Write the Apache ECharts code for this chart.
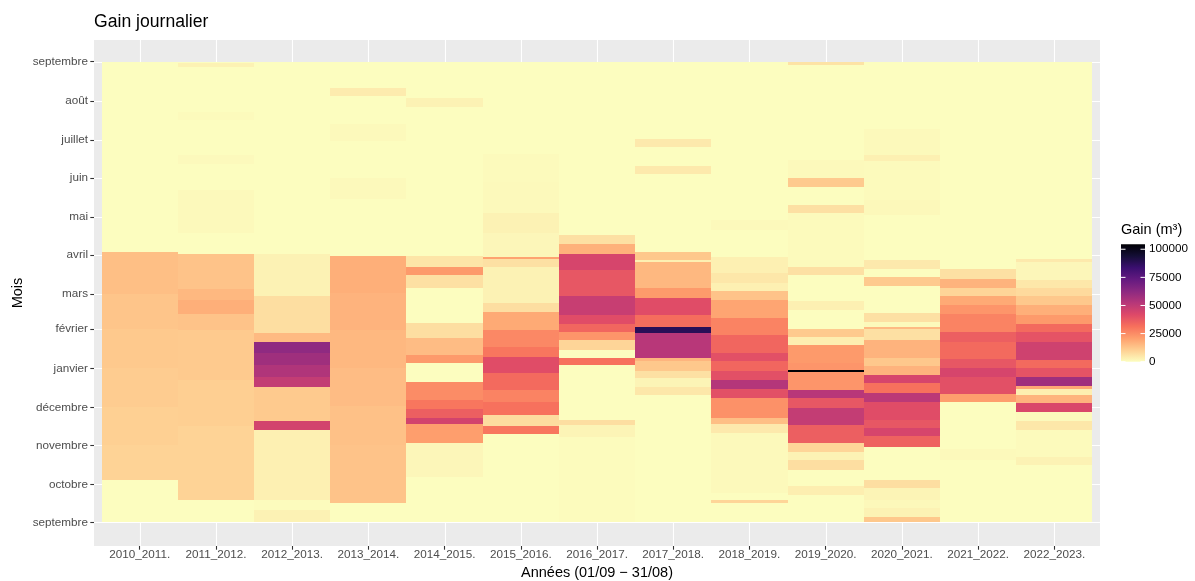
<!DOCTYPE html>
<html>
<head>
<meta charset="utf-8">
<script src="https://cdn.jsdelivr.net/npm/echarts@6/dist/echarts.min.js"></script>
<style>
  body { margin: 0; background: #fff; }
  #chart-container { width: 1195px; height: 581px; }
</style>
</head>
<body>
<div id="chart-container"></div>
<script>
// Années (colonnes)
const years = ['2010_2011.', '2011_2012.', '2012_2013.', '2013_2014.', '2014_2015.', '2015_2016.',
  '2016_2017.', '2017_2018.', '2018_2019.', '2019_2020.', '2020_2021.', '2021_2022.', '2022_2023.'];

// Jours depuis le 01/09 pour le début de chaque mois
const monthDays = [0, 30, 61, 91, 122, 153, 181, 212, 242, 273, 303, 334, 365];
const monthNames = ['septembre', 'octobre', 'novembre', 'décembre', 'janvier', 'février', 'mars',
  'avril', 'mai', 'juin', 'juillet', 'août', 'septembre'];

const legendTicks = [0, 25000, 50000, 75000, 100000];
const gainMax = 104400;

// Segments [jour début, jour fin, gain m3] par saison (le reste = 0)
const seg2010 = [[33.5,61,9500],[61,91,10200],[91,122,11000],[122,153,11800],[153,181,12600],[181,214,14000]];
const seg2011 = [[18,76,9500],[76,113,10500],[113,152,11500],[152,165,13000],[165,176,17500],[176,185,15500],
  [185,213,13000],[229,263,1000],[284,291,800],[319,325,700],[361,364,2500]];
const seg2012 = [[0,10,2500],[10,18,500],[18,73,3000],[73,80,45000],[80,107.5,11500],[107.5,115,49000],
  [115,125,54000],[125,134,58000],[134,143,62000],[143,150,15000],[150,179,7000],[179,213,2500]];
const seg2013 = [[15,61,13000],[61,92,13500],[92,122,14500],[122,152,15500],[152,181.5,16500],[181.5,211,17500],
  [256,273,1000],[302,316,1000],[338,344,4000]];
const seg2014 = [[36,63,1500],[63,78,21000],[78,82.5,45000],[82.5,90,36000],[90,97,30000],[97,111.5,25000],
  [126,132.5,22000],[132.5,146,14500],[146,158,7000],[185.5,196,6500],[196,202.5,22000],[202.5,211,5500],[329,336,2500]];
const seg2015 = [[70,76,30000],[76,85,7500],[85,95.5,31000],[95.5,105,27000],[105,118,33000],[118,131,41000],
  [131,139,30000],[139,152.5,26000],[152.5,167,18500],[167,173.5,7000],[173.5,202.5,2500],[202.5,208.5,6500],
  [208.5,210.5,20000],[210.5,229,1500],[229,245,2500],[245,270,1000],[270,292,600]];
const seg2016 = [[0,67.5,400],[67.5,77,2000],[77,81,7000],[124.5,130,31000],[136.5,144.5,9000],[144.5,151,23000],
  [151,157.5,34000],[157.5,164,41000],[164,179,48000],[179,200,38000],[200,213,44000],[213,220.5,17000],[220.5,227.5,6500]];
const seg2017 = [[101,107.5,5000],[107.5,114,2000],[114,119.5,6500],[119.5,128,12000],[128,130,16000],[130,150,52000],
  [150,154.5,88000],[154.5,164.5,32000],[164.5,177.5,41000],[177.5,185.5,22000],[185.5,206,15500],[206,208,3000],
  [208,214.5,12000],[276,282,4500],[297.5,303.5,4500]];
const seg2018 = [[15.5,17.5,9000],[23,70.5,1000],[70.5,78,4500],[78,82.5,14000],[82.5,98.5,24000],[98.5,106,40000],
  [106,113,53000],[113,119.5,40000],[119.5,127.5,34000],[127.5,134,40000],[134,148.5,34000],[148.5,161.5,27000],
  [161.5,176,19500],[176,183,13000],[183,189.5,3000],[189.5,197.5,5000],[197.5,210.5,3000],[231.5,239.5,1000]];
const seg2019 = [[21.5,28.5,3500],[41.5,49,7000],[49,56,2500],[56,62.5,9000],[62.5,77,36000],[77,90.5,49000],
  [90.5,98.5,38000],[98.5,105,52000],[105,119.4,23000],[119.4,120.8,104000],[120.8,126,23000],[126,140.5,22000],
  [140.5,147,3500],[147,153.5,11500],[168,175,3000],[196,202.5,6500],[202.5,245,700],[245,251.5,6500],
  [266,272.5,11500],[272.5,287,1000],[362,365,6000]];
const seg2020 = [[0,4.5,12000],[4.5,11,2500],[11,17.5,1200],[17.5,27,2000],[27,33.5,7000],[60,68,35000],[68,74.5,44000],
  [74.5,81,38000],[81,95.5,41000],[95.5,102.5,51000],[102.5,110,31000],[110,116.5,44000],[116.5,124,16500],
  [124,130,12000],[130,144.5,16500],[144.5,153,6500],[153,154.5,15000],[154.5,159,1000],[159,165.5,6500],
  [187.5,194,11500],[200.5,208,4500],[243.5,255.5,1200],[255.5,286,600],[286,291,3000],[291,312,900]];
const seg2021 = [[49,58,1000],[95,102,21000],[102,115.5,40000],[115.5,122,44000],[122,129,38000],[129,143,33000],
  [143,151,36000],[151,165,27000],[165,172,23000],[172,179,18500],[179,185.5,9000],[185.5,192.5,16500],[192.5,200.5,6500]];
const seg2022 = [[45.5,52,2500],[52,73,700],[73,80,5000],[80,87.5,800],[87.5,94.5,43000],[94.5,101,16500],
  [101,106,3500],[106,108,19000],[108,115.5,58000],[115.5,122,39000],[122,128.5,33000],[128.5,143,46000],
  [143,151,39000],[151,157.5,33000],[157.5,164.5,22000],[164.5,172,17500],[172,179,12000],[179,185.5,8000],
  [185.5,192,5000],[192,206,1500],[206,209,4500]];

const segments = [seg2010, seg2011, seg2012, seg2013, seg2014, seg2015, seg2016,
  seg2017, seg2018, seg2019, seg2020, seg2021, seg2022];

// palette magma inversée (0 -> jaune pâle, max -> noir)
const magmaRev = ['#FCFDBF', '#FECF92', '#FE9F6D', '#F7705C', '#DE4968', '#B73779',
  '#8C2981', '#641A80', '#3B0F70', '#140E36', '#000004'];

const FONT = '"Liberation Sans", Arial, sans-serif';

// une tuile de base à 0 par saison, puis les segments par-dessus
const tiles = [];
years.forEach((y, i) => tiles.push([i, 0, 365, 0]));
segments.forEach((segs, i) => segs.forEach(s => tiles.push([i, s[0], s[1], s[2]])));

function renderTile(params, api) {
  const p0 = api.coord([api.value(0) - 0.5, api.value(2)]);
  const p1 = api.coord([api.value(0) + 0.5, api.value(1)]);
  const x0 = Math.round(p0[0]), x1 = Math.round(p1[0]);
  const y0 = Math.round(p0[1]), y1 = Math.round(p1[1]);
  return {
    type: 'rect',
    shape: { x: x0, y: y0, width: x1 - x0, height: Math.max(y1 - y0, 1) },
    style: { fill: api.visual('color') }
  };
}

function renderVLine(params, api) {
  const cs = params.coordSys;
  const x = Math.round(api.coord([api.value(0), 0])[0]) + 0.5;
  return { type: 'line', shape: { x1: x, y1: cs.y, x2: x, y2: cs.y + cs.height },
    style: { stroke: '#fff', lineWidth: 1.1 } };
}

function renderHLine(params, api) {
  const cs = params.coordSys;
  const y = Math.round(api.coord([0, api.value(1)])[1]) + 0.5;
  return { type: 'line', shape: { x1: cs.x, y1: y, x2: cs.x + cs.width, y2: y },
    style: { stroke: '#fff', lineWidth: 1.1 } };
}

// légende (barre de couleur)
const barX = 1121, barTop = 244.3, barW = 24, barH = 117.4;
const gradStops = magmaRev.slice().reverse().map((c, k) => ({ offset: k / (magmaRev.length - 1), color: c }));
const legendGraphics = [
  { type: 'text', x: 1121, y: 230, style: { text: 'Gain (m³)', font: '14.5px ' + FONT, fill: '#000', verticalAlign: 'middle' } },
  { type: 'rect', shape: { x: barX, y: barTop, width: barW, height: barH },
    style: { fill: new echarts.graphic.LinearGradient(0, 0, 0, 1, gradStops) } }
];
legendTicks.forEach(v => {
  const ty = barTop + barH * (1 - v / gainMax);
  legendGraphics.push(
    { type: 'line', shape: { x1: barX, y1: ty, x2: barX + 4.5, y2: ty }, style: { stroke: '#fff', lineWidth: 1 } },
    { type: 'line', shape: { x1: barX + barW - 4.5, y1: ty, x2: barX + barW, y2: ty }, style: { stroke: '#fff', lineWidth: 1 } },
    { type: 'text', x: barX + barW + 4, y: ty, style: { text: String(v), font: '11.7px ' + FONT, fill: '#000', verticalAlign: 'middle' } }
  );
});

let myChart = echarts.init(document.getElementById('chart-container'), null, { renderer: 'canvas' });

const opciones = {
  backgroundColor: '#fff',
  animation: false,
  textStyle: { fontFamily: FONT },
  title: {
    text: 'Gain journalier', left: 94, top: 13, padding: 0,
    textStyle: { fontSize: 17.6, fontWeight: 'normal', color: '#000', fontFamily: FONT }
  },
  grid: { left: 94, right: 95, top: 40, bottom: 35, show: true, backgroundColor: '#EBEBEB', borderWidth: 0,
    outerBoundsMode: 'none', containLabel: false },
  xAxis: {
    type: 'value', min: -0.6, max: 12.6,
    axisLine: { show: false, onZero: false },
    splitLine: { show: false },
    axisTick: { show: true, customValues: years.map((y, i) => i), length: 3.7, lineStyle: { color: '#333', width: 1.1 } },
    axisLabel: {
      customValues: years.map((y, i) => i), formatter: v => years[Math.round(v)],
      color: '#4D4D4D', fontSize: 11.7, margin: 3, fontFamily: FONT
    },
    name: 'Années (01/09 − 31/08)', nameLocation: 'middle', nameGap: 19, nameMoveOverlap: false,
    nameTextStyle: { fontSize: 14.5, color: '#000', fontFamily: FONT }
  },
  yAxis: {
    type: 'value', min: -18.8, max: 382.2,
    axisLine: { show: false, onZero: false },
    splitLine: { show: false },
    axisTick: { show: true, customValues: monthDays, length: 3.7, lineStyle: { color: '#333', width: 1.1 } },
    axisLabel: {
      customValues: monthDays,
      formatter: v => monthNames[monthDays.findIndex(d => Math.abs(d - v) < 0.01)],
      color: '#4D4D4D', fontSize: 11.7, margin: 6, fontFamily: FONT
    },
    name: 'Mois', nameLocation: 'middle', nameGap: 69, nameRotate: 90, nameMoveOverlap: false,
    nameTextStyle: { fontSize: 14.5, color: '#000', fontFamily: FONT }
  },
  visualMap: {
    show: false, type: 'continuous', min: 0, max: gainMax, dimension: 3, seriesIndex: 2,
    inRange: { color: magmaRev }
  },
  graphic: legendGraphics,
  series: [
    { type: 'custom', z: 1, silent: true, renderItem: renderVLine, encode: { x: 0, y: 1 },
      data: years.map((y, i) => [i, 0]) },
    { type: 'custom', z: 1, silent: true, renderItem: renderHLine, encode: { x: 0, y: 1 },
      data: monthDays.map(d => [0, d]) },
    { type: 'custom', z: 2, silent: true, renderItem: renderTile, encode: { x: 0, y: [1, 2] },
      data: tiles }
  ]
};

myChart.setOption(opciones, true);
window.addEventListener('resize', myChart.resize);
</script>
</body>
</html>
